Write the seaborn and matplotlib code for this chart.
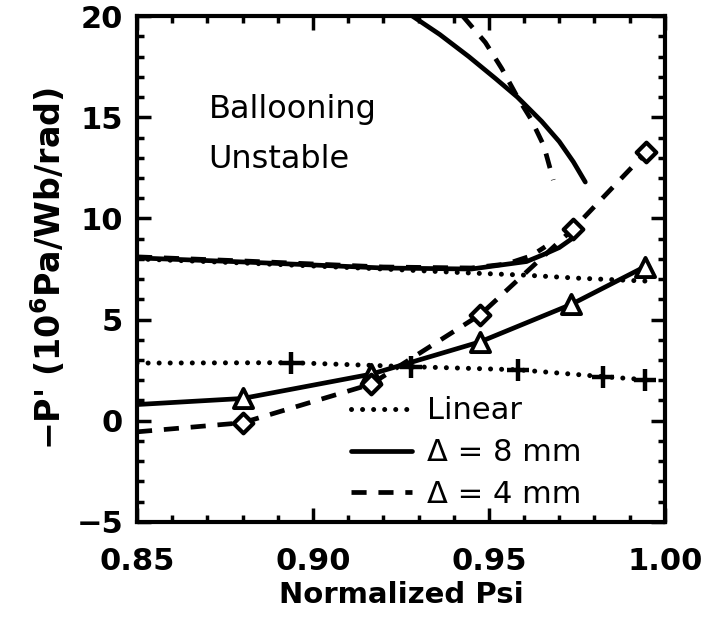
import matplotlib
matplotlib.use("Agg")
import matplotlib.pyplot as plt
import seaborn as sns
import pandas as pd
from matplotlib.ticker import MultipleLocator

# ---- data ----
# stability boundaries (upper branch and lower branch)
up8_x = [0.9283, 0.9360, 0.9443, 0.9520, 0.9581, 0.9650, 0.9700, 0.9740, 0.9774]
up8_y = [20.0, 19.1, 18.0, 16.9, 16.0, 14.8, 13.8, 12.8, 11.8]
up4_x = [0.9426, 0.9490, 0.9537, 0.9581, 0.9620, 0.9656, 0.9683]
up4_y = [20.0, 18.7, 17.4, 16.0, 14.9, 13.6, 11.9]
lo8_x = [0.850, 0.880, 0.900, 0.920, 0.945, 0.9607, 0.966, 0.970, 0.9736]
lo8_y = [8.05, 7.85, 7.70, 7.55, 7.50, 7.87, 8.25, 8.56, 9.00]
lo4_x = [0.850, 0.880, 0.900, 0.920, 0.945, 0.955, 0.962, 0.966]
lo4_y = [8.10, 7.90, 7.75, 7.60, 7.55, 7.75, 8.15, 8.60]
loLin_x = [0.850, 0.880, 0.900, 0.920, 0.945, 0.960, 0.975, 0.995]
loLin_y = [8.00, 7.80, 7.65, 7.50, 7.30, 7.20, 7.05, 6.90]

# pressure gradient profiles
lin_x = [0.850, 0.8939, 0.9279, 0.9582, 0.9824, 0.9944]
lin_y = [2.85, 2.87, 2.67, 2.52, 2.18, 2.03]
d8_x = [0.850, 0.880, 0.9165, 0.9475, 0.9734, 0.9944]
d8_y = [0.80, 1.10, 2.30, 3.90, 5.75, 7.62]
d4_x = [0.850, 0.880, 0.9164, 0.9476, 0.9738, 0.9947]
d4_y = [-0.55, -0.10, 1.80, 5.25, 9.46, 13.27]
lin_mark_x = lin_x[1:]
lin_mark_y = lin_y[1:]
d8_mark_x = d8_x[1:]
d8_mark_y = d8_y[1:]
d4_mark_x = d4_x[1:]
d4_mark_y = d4_y[1:]

xticks = [0.85, 0.90, 0.95, 1.00]
xticklabels = ["0.85", "0.90", "0.95", "1.00"]
yticks = [-5, 0, 5, 10, 15, 20]

sns.set_style("ticks")
plt.rcParams["font.family"] = ["DejaVu Sans"]
plt.rcParams["mathtext.default"] = "regular"
for k in ["text.color", "axes.labelcolor", "xtick.color", "ytick.color",
          "axes.edgecolor"]:
    plt.rcParams[k] = "black"

fig = plt.figure(figsize=(7.25, 6.22), dpi=100)
ax = fig.add_axes([0.189, 0.161, 0.728, 0.813])

LW = 3.4
DOT_LW = 3.6
dash = (0, (3.2, 2.5))
dot = (0, (0.01, 2.2))

def line(x, y, ls, label=None):
    df = pd.DataFrame({"x": x, "y": y})
    lw = DOT_LW if ls is dot else LW
    sns.lineplot(data=df, x="x", y="y", ax=ax, color="black", linewidth=lw,
                 linestyle=ls, sort=False, label=label,
                 dash_capstyle="round" if ls is dot else "butt",
                 solid_capstyle="round")

# boundaries
line(loLin_x, loLin_y, dot)
line(lo8_x, lo8_y, "-")
line(lo4_x, lo4_y, dash)
line(up8_x, up8_y, "-")
line(up4_x, up4_y, dash)

# profiles
line(lin_x, lin_y, dot, "Linear")
line(d8_x, d8_y, "-", "Δ = 8 mm")
line(d4_x, d4_y, dash, "Δ = 4 mm")

sns.scatterplot(x=lin_mark_x, y=lin_mark_y, ax=ax, marker="+", s=260,
                color="black", linewidth=3.2, zorder=5)
sns.scatterplot(x=d8_mark_x, y=d8_mark_y, ax=ax, marker="^", s=190,
                facecolor="white", edgecolor="black", linewidth=2.8, zorder=5)
sns.scatterplot(x=d4_mark_x, y=d4_mark_y, ax=ax, marker="D", s=100,
                facecolor="white", edgecolor="black", linewidth=3.0, zorder=5)

ax.set_xlim(0.85, 1.00)
ax.set_ylim(-5, 20)
ax.set_xticks(xticks)
ax.set_xticklabels(xticklabels)
ax.set_yticks(yticks)
ax.xaxis.set_minor_locator(MultipleLocator(0.01))
ax.yaxis.set_minor_locator(MultipleLocator(1))
ax.tick_params(which="both", direction="in", top=True, right=True,
               width=2.5, color="black")
ax.tick_params(which="major", length=10, labelsize=22)
ax.tick_params(axis="x", which="major", pad=18)
ax.tick_params(axis="y", which="major", pad=10)
ax.tick_params(which="minor", length=5)
for lab in ax.get_xticklabels() + ax.get_yticklabels():
    lab.set_fontweight("bold")
for s in ax.spines.values():
    s.set_linewidth(3)
    s.set_visible(True)

ax.set_xlabel("Normalized Psi", fontsize=21, fontweight="bold", labelpad=4)
ax.set_ylabel("$-$P' (10$^6$Pa/Wb/rad)", fontsize=24, fontweight="bold", labelpad=6)

ax.text(0.8703, 15.4, "Ballooning", fontsize=23, va="center", ha="left")
ax.text(0.8703, 12.9, "Unstable", fontsize=23, va="center", ha="left")

leg = ax.legend(loc="upper left", bbox_to_anchor=(0.405, 0.248), frameon=False,
                fontsize=22, handlelength=2.0, handletextpad=0.5,
                labelspacing=0.42, borderpad=0, borderaxespad=0)

fig.savefig("out.png", dpi=100)
